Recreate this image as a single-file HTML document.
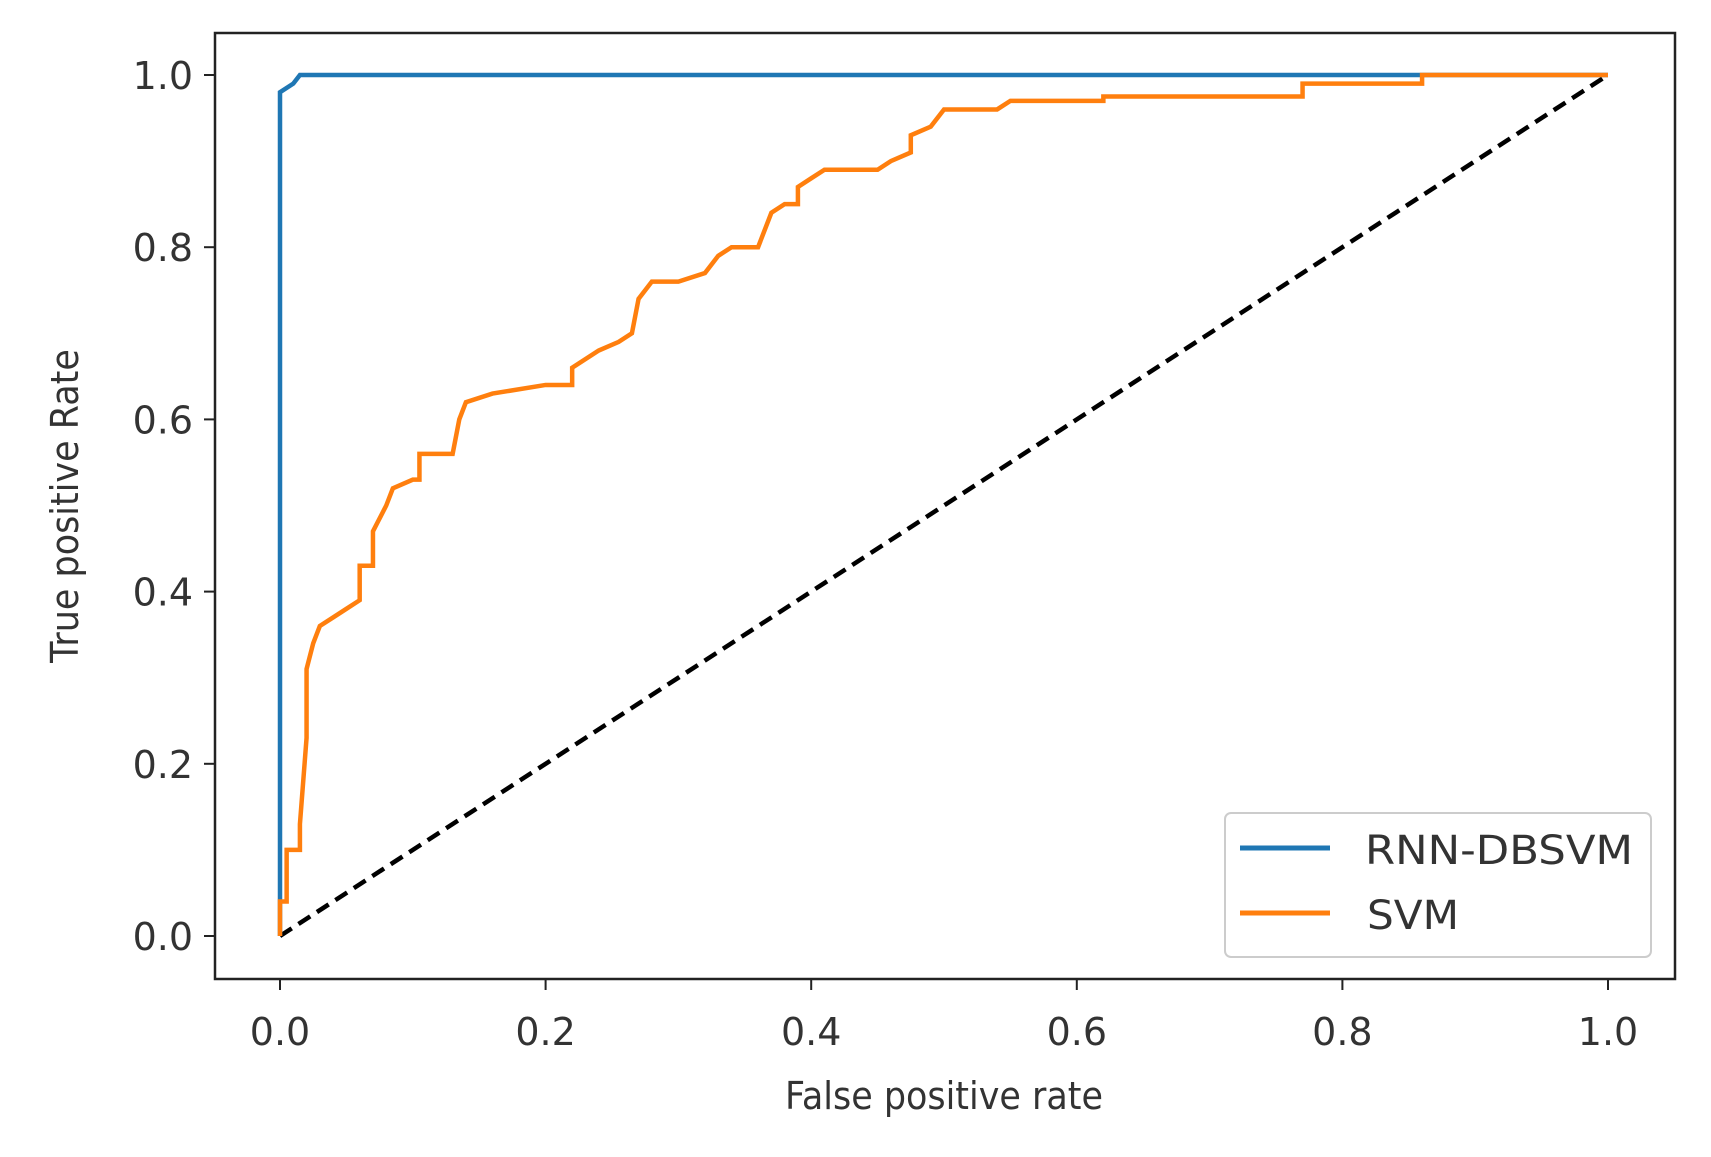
<!DOCTYPE html>
<html><head><meta charset="utf-8"><style>
html,body{margin:0;padding:0;background:#fff;}
svg{display:block;font-family:"DejaVu Sans","Liberation Sans",sans-serif;}
</style></head><body>
<svg id="chart" width="1711" height="1157" viewBox="0 0 1711 1157" xmlns="http://www.w3.org/2000/svg">
<rect x="0" y="0" width="1711" height="1157" fill="#fff"/>
<g id="marks"></g>
<g id="axes"></g>
<rect x="215" y="33" width="1460" height="946" fill="none" stroke="#222" stroke-width="2.5"/>
<text x="944" y="1109" font-size="38" fill="#333" text-anchor="middle" transform="translate(944,0) scale(0.92,1) translate(-944,0)">False positive rate</text>
<text transform="translate(78,506) rotate(-90) scale(0.92,1)" font-size="38" fill="#333" text-anchor="middle">True positive Rate</text>
<g>
<rect x="1225" y="813" width="426" height="144" rx="6" fill="#fff" stroke="#ccc" stroke-width="2"/>
<line x1="1240" y1="848" x2="1330" y2="848" stroke="#1f77b4" stroke-width="5"/>
<text x="1365" y="864" font-size="40" fill="#333" textLength="268" lengthAdjust="spacingAndGlyphs">RNN-DBSVM</text>
<line x1="1240" y1="913" x2="1330" y2="913" stroke="#ff7f0e" stroke-width="5"/>
<text x="1367" y="929" font-size="40" fill="#333" textLength="92" lengthAdjust="spacingAndGlyphs">SVM</text>
</g>
</svg>
<script>
const ticks = [0, 0.2, 0.4, 0.6, 0.8, 1.0];
const tickLabels = ["0.0", "0.2", "0.4", "0.6", "0.8", "1.0"];
const rnnFpr = [0, 0, 0.01, 0.015, 1];
const rnnTpr = [0, 0.98, 0.99, 1, 1];
const svmFpr = [0,0,0.005,0.005,0.015,0.015,0.02,0.02,0.025,0.03,0.04,0.05,0.06,0.06,0.07,0.07,0.08,0.085,0.1,0.105,0.105,0.13,0.135,0.14,0.16,0.2,0.22,0.22,0.24,0.255,0.265,0.27,0.28,0.3,0.32,0.33,0.34,0.36,0.37,0.38,0.39,0.39,0.4,0.41,0.45,0.46,0.475,0.475,0.49,0.5,0.54,0.55,0.62,0.62,0.77,0.77,0.86,0.86,1];
const svmTpr = [0,0.04,0.04,0.1,0.1,0.13,0.23,0.31,0.34,0.36,0.37,0.38,0.39,0.43,0.43,0.47,0.5,0.52,0.53,0.53,0.56,0.56,0.6,0.62,0.63,0.64,0.64,0.66,0.68,0.69,0.7,0.74,0.76,0.76,0.77,0.79,0.8,0.8,0.84,0.85,0.85,0.87,0.88,0.89,0.89,0.9,0.91,0.93,0.94,0.96,0.96,0.97,0.97,0.975,0.975,0.99,0.99,1,1];

const NS = "http://www.w3.org/2000/svg";
const X = v => 280 + v * 1328;
const Y = v => 936 - v * 861;
const marks = document.getElementById('marks');
const axes = document.getElementById('axes');

function poly(xs, ys, color, name, dash) {
  const p = document.createElementNS(NS, 'polyline');
  p.setAttribute('points', xs.map((x, i) => X(x) + ',' + Y(ys[i])).join(' '));
  p.setAttribute('fill', 'none');
  p.setAttribute('stroke', color);
  p.setAttribute('stroke-width', '4.5');
  if (dash) p.setAttribute('stroke-dasharray', dash);
  
  
  marks.appendChild(p);
}
poly([0, 1], [0, 1], '#000', 'chance-line', '14,8');
poly(rnnFpr, rnnTpr, '#1f77b4', 'rnn-dbsvm-roc-line');
poly(svmFpr, svmTpr, '#ff7f0e', 'svm-roc-line');

ticks.forEach((t, i) => {
  const xl = document.createElementNS(NS, 'line');
  xl.setAttribute('x1', X(t)); xl.setAttribute('x2', X(t));
  xl.setAttribute('y1', 979); xl.setAttribute('y2', 990);
  xl.setAttribute('stroke', '#222'); xl.setAttribute('stroke-width', '2');
  
  
  axes.appendChild(xl);
  const xt = document.createElementNS(NS, 'text');
  xt.setAttribute('x', X(t)); xt.setAttribute('y', 1045);
  xt.setAttribute('font-size', '38'); xt.setAttribute('fill', '#333');
  xt.setAttribute('text-anchor', 'middle');
  xt.textContent = tickLabels[i];
  
  
  axes.appendChild(xt);
  const yl = document.createElementNS(NS, 'line');
  yl.setAttribute('x1', 204); yl.setAttribute('x2', 215);
  yl.setAttribute('y1', Y(t)); yl.setAttribute('y2', Y(t));
  yl.setAttribute('stroke', '#222'); yl.setAttribute('stroke-width', '2');
  
  
  axes.appendChild(yl);
  const yt = document.createElementNS(NS, 'text');
  yt.setAttribute('x', 193); yt.setAttribute('y', Y(t) + 14);
  yt.setAttribute('font-size', '38'); yt.setAttribute('fill', '#333');
  yt.setAttribute('text-anchor', 'end');
  yt.textContent = tickLabels[i];
  
  
  axes.appendChild(yt);
});
</script>
</body></html>
